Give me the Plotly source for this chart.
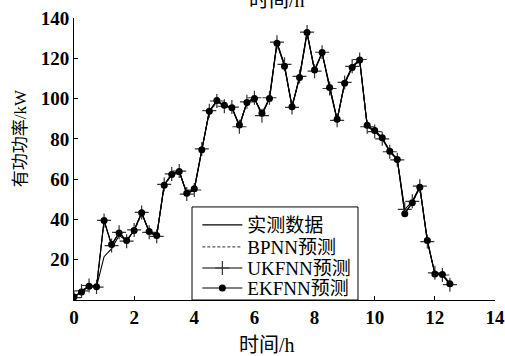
import plotly.graph_objects as go

# time axis (h), 15-min steps
hours = [i * 0.25 for i in range(51)]

actual = [1.5, 4.0, 6.8, 6.6, 21.5, 25.5, 32.0, 29.5, 34.5, 43.0,
          34.0, 32.0, 57.0, 62.3, 63.8, 53.0, 55.0, 74.5, 93.5, 98.5,
          96.5, 95.5, 86.5, 98.0, 100.0, 92.5, 100.0, 127.5, 116.0, 96.0,
          110.5, 132.5, 114.0, 122.5, 105.5, 89.5, 107.5, 115.5, 119.0, 86.5,
          84.0, 80.3, 74.0, 70.0, 43.0, 48.5, 56.0, 29.5, 13.0, 12.7,
          8.3]

bpnn = [1.8, 4.3, 7.0, 6.8, 39.0, 27.8, 33.0, 29.8, 34.2, 42.6,
        34.3, 32.3, 56.6, 62.0, 63.5, 53.4, 55.3, 74.0, 93.0, 98.2,
        96.8, 95.2, 86.9, 97.6, 99.6, 92.9, 99.6, 127.0, 116.4, 96.4,
        110.0, 132.0, 114.4, 122.0, 105.9, 89.9, 107.1, 115.1, 118.6, 86.9,
        84.3, 80.6, 74.3, 70.3, 43.5, 48.2, 55.6, 29.9, 13.4, 13.0,
        8.6]

ukfnn = [1.2, 4.5, 7.2, 6.4, 39.5, 27.0, 33.6, 29.2, 34.8, 43.5,
         33.6, 31.6, 57.4, 62.6, 64.0, 52.6, 54.6, 75.0, 94.0, 98.8,
         96.2, 95.8, 86.0, 98.4, 100.4, 91.5, 100.4, 128.0, 117.0, 95.6,
         111.0, 133.0, 113.6, 123.0, 105.0, 89.2, 108.0, 116.0, 119.4, 86.0,
         83.6, 80.0, 73.6, 69.6, 45.0, 49.0, 56.5, 29.0, 13.5, 12.4,
         7.6]

ekfnn = [1.5, 4.0, 6.8, 6.6, 39.5, 27.5, 33.3, 29.5, 34.5, 43.3,
         34.0, 32.0, 57.0, 62.3, 63.8, 53.0, 55.2, 74.6, 93.7, 99.0,
         96.7, 95.5, 86.9, 98.0, 100.0, 92.7, 100.0, 127.5, 116.0, 96.0,
         110.4, 132.8, 114.2, 122.9, 105.5, 89.7, 107.6, 115.4, 119.2, 86.7,
         84.2, 80.6, 73.9, 69.8, 42.8, 48.3, 56.0, 29.5, 12.9, 12.6,
         8.1]

names = ["实测数据", "BPNN预测", "UKFNN预测", "EKFNN预测"]
xticks = [0, 2, 4, 6, 8, 10, 12, 14]
yticks = [20, 40, 60, 80, 100, 120, 140]

serif = "Liberation Serif, Noto Sans CJK SC, serif"

fig = go.Figure()
fig.add_trace(go.Scatter(x=hours, y=actual, name=names[0], mode="lines",
                         legend="legend",
                         line=dict(color="#000000", width=1.1)))
fig.add_trace(go.Scatter(x=hours, y=bpnn, name=names[1], mode="lines",
                         legend="legend2",
                         line=dict(color="#555555", width=1.1, dash="3px,2px")))
fig.add_trace(go.Scatter(x=hours, y=ukfnn, name=names[2], mode="lines+markers",
                         legend="legend3",
                         line=dict(color="#000000", width=1.1),
                         marker=dict(symbol="cross-thin", size=10,
                                     line=dict(color="#333333", width=1.2))))
fig.add_trace(go.Scatter(x=hours, y=ekfnn, name=names[3], mode="lines+markers",
                         legend="legend4",
                         line=dict(color="#000000", width=1.1),
                         marker=dict(symbol="circle", size=7, color="#000000")))

leg_x = 0.293
row_y = [0.266, 0.188, 0.113, 0.042]


def leg(y):
    return dict(x=leg_x, y=y, xanchor="left", yanchor="middle",
                bgcolor="rgba(0,0,0,0)", borderwidth=0,
                font=dict(family=serif, size=19, color="black"),
                itemwidth=40)


fig.update_layout(
    width=505, height=356,
    margin=dict(l=74, r=10, t=18, b=56),
    paper_bgcolor="white", plot_bgcolor="white",
    showlegend=True,
    legend=leg(row_y[0]), legend2=leg(row_y[1]),
    legend3=leg(row_y[2]), legend4=leg(row_y[3]),
    xaxis=dict(range=[0, 14], tickvals=xticks, ticktext=[str(v) for v in xticks],
               showgrid=False, zeroline=False, showline=True, linecolor="black",
               linewidth=1, ticks="inside", ticklen=4, tickcolor="black",
               automargin=False,
               tickfont=dict(family=serif, size=19, color="black", weight="bold")),
    yaxis=dict(range=[0, 140], tickvals=yticks, ticktext=[str(v) for v in yticks],
               showgrid=False, zeroline=False, showline=True, linecolor="black",
               linewidth=1, ticks="inside", ticklen=4, tickcolor="black",
               automargin=False,
               tickfont=dict(family=serif, size=19, color="black", weight="bold")),
    shapes=[
        dict(type="rect", xref="paper", yref="paper", x0=0.2803, x1=0.6746,
             y0=0.0, y1=0.330, layer="above",
             line=dict(color="black", width=1), fillcolor="white"),
    ],
    annotations=[
        dict(text="时间/h", xref="paper", yref="paper", x=0.458, y=-0.16,
             xanchor="center", yanchor="middle", showarrow=False,
             font=dict(family=serif, size=20, color="black")),
        dict(text="时间/h", xref="paper", yref="paper", x=0.483, y=1.064,
             xanchor="center", yanchor="middle", showarrow=False,
             font=dict(family=serif, size=20, color="black")),
        dict(text="有功功率/kW", xref="paper", yref="paper", x=-0.128, y=0.574,
             xanchor="center", yanchor="middle", showarrow=False, textangle=-90,
             font=dict(family=serif, size=17, color="black")),
    ],
)

fig.write_html("out.html")
